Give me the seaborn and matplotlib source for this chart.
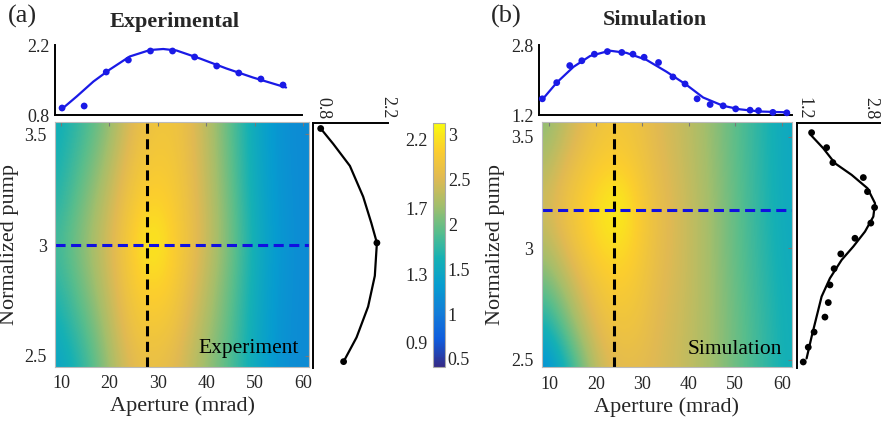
import numpy as np
import matplotlib
matplotlib.use('Agg')
import matplotlib.pyplot as plt
from matplotlib.colors import LinearSegmentedColormap
import seaborn as sns

sns.set_style('white')
plt.rcParams['font.family'] = ['Liberation Serif', 'DejaVu Serif']

W, H = 882, 426

# heatmap grids (columns = aperture, rows = pump, bottom row first)
grid_aperture = [9, 13, 17, 21, 25, 29, 33, 37, 41, 45, 49, 53, 57, 61]
grid_pump = [2.45, 2.635, 2.82, 3.005, 3.19, 3.375, 3.56]

exp_map = [
    [1.40, 1.62, 1.92, 2.28, 2.55, 2.62, 2.55, 2.35, 2.12, 1.88, 1.58, 1.32, 1.18, 1.15],
    [1.55, 1.78, 2.05, 2.40, 2.68, 2.75, 2.68, 2.45, 2.20, 1.92, 1.60, 1.33, 1.19, 1.15],
    [1.70, 1.93, 2.20, 2.50, 2.78, 2.88, 2.80, 2.55, 2.28, 1.97, 1.63, 1.35, 1.20, 1.15],
    [1.82, 2.02, 2.28, 2.55, 2.85, 3.08, 2.85, 2.62, 2.35, 2.03, 1.67, 1.37, 1.21, 1.15],
    [1.68, 1.93, 2.20, 2.48, 2.76, 2.88, 2.80, 2.60, 2.33, 2.00, 1.63, 1.35, 1.20, 1.15],
    [1.60, 1.82, 2.06, 2.36, 2.65, 2.76, 2.74, 2.57, 2.30, 1.96, 1.60, 1.33, 1.19, 1.15],
    [1.55, 1.72, 1.94, 2.22, 2.55, 2.68, 2.70, 2.55, 2.27, 1.93, 1.58, 1.32, 1.18, 1.15],
]

sim_map = [
    [1.10, 1.50, 1.98, 2.40, 2.55, 2.55, 2.50, 2.42, 2.33, 2.20, 2.04, 1.88, 1.72, 1.58],
    [1.55, 1.92, 2.30, 2.58, 2.68, 2.65, 2.52, 2.44, 2.33, 2.20, 2.03, 1.87, 1.71, 1.57],
    [1.95, 2.22, 2.52, 2.72, 2.80, 2.72, 2.56, 2.46, 2.35, 2.20, 2.02, 1.85, 1.69, 1.55],
    [2.28, 2.52, 2.75, 2.90, 2.95, 2.80, 2.60, 2.48, 2.35, 2.19, 2.00, 1.83, 1.67, 1.52],
    [2.45, 2.65, 2.82, 2.98, 3.10, 2.82, 2.62, 2.48, 2.35, 2.19, 2.00, 1.82, 1.65, 1.50],
    [2.28, 2.50, 2.68, 2.80, 2.82, 2.72, 2.56, 2.45, 2.32, 2.17, 1.98, 1.81, 1.64, 1.49],
    [2.10, 2.32, 2.52, 2.68, 2.72, 2.65, 2.52, 2.42, 2.30, 2.15, 1.97, 1.80, 1.63, 1.48],
]

exp_cut_aperture = 27.8
exp_cut_pump = 3.0
sim_cut_aperture = 23.9
sim_cut_pump = 3.17

# experimental aperture scan (top of panel a)
exp_ap_x = [10, 15, 20, 25, 30, 35, 40, 45, 50, 55, 60]
exp_ap_y = [0.94, 0.98, 1.66, 1.90, 2.08, 2.08, 1.96, 1.78, 1.64, 1.52, 1.40]
exp_ap_fit_x = [10.1, 13.3, 17.1, 20.8, 25.3, 29.9, 32.9, 35.9, 41.2, 47.2, 53.2, 60.7]
exp_ap_fit_y = [0.93, 1.17, 1.47, 1.71, 1.97, 2.10, 2.12, 2.09, 1.93, 1.73, 1.55, 1.35]

# experimental pump scan (right of panel a)
exp_pump_y = [3.53, 3.01, 2.47]
exp_pump_x = [0.745, 1.96, 1.24]
exp_pump_fit_y = [3.53, 3.46, 3.36, 3.22, 3.10, 3.01, 2.86, 2.72, 2.58, 2.47]
exp_pump_fit_x = [0.745, 1.016, 1.376, 1.663, 1.84, 1.96, 1.915, 1.77, 1.52, 1.24]

# simulated aperture scan (top of panel b)
sim_ap_x = [8.5, 11.6, 14.4, 17.0, 19.7, 22.5, 25.6, 28.0, 30.4, 33.5,
            36.6, 39.2, 41.8, 44.6, 47.4, 50.1, 53.2, 55.0, 58.1, 61.1]
sim_ap_y = [1.57, 1.94, 2.33, 2.44, 2.59, 2.65, 2.63, 2.59, 2.52, 2.40,
            2.07, 1.91, 1.57, 1.44, 1.41, 1.34, 1.31, 1.30, 1.26, 1.25]
sim_ap_fit_x = [8.4, 11.6, 15.2, 18.8, 23.0, 26.6, 30.9, 35.2, 39.5, 43.1, 47.4, 51.0, 55.3, 61.4]
sim_ap_fit_y = [1.54, 1.94, 2.30, 2.55, 2.67, 2.62, 2.46, 2.19, 1.89, 1.60, 1.41, 1.33, 1.28, 1.26]

# simulated pump scan (right of panel b)
sim_pump_y = [3.518, 3.451, 3.384, 3.317, 3.254, 3.183, 3.113, 3.045,
              2.975, 2.909, 2.836, 2.757, 2.692, 2.625, 2.557, 2.491]
sim_pump_x = [1.39, 1.75, 1.90, 2.63, 2.73, 2.90, 2.81, 2.43,
              2.09, 1.93, 1.83, 1.79, 1.71, 1.45, 1.31, 1.19]
sim_pump_fit_y = [3.508, 3.448, 3.381, 3.329, 3.269, 3.202, 3.142, 3.075,
                  3.008, 2.948, 2.866, 2.784, 2.694, 2.604, 2.507]
sim_pump_fit_x = [1.37, 1.67, 1.95, 2.35, 2.73, 2.91, 2.87, 2.67,
                  2.39, 2.11, 1.83, 1.63, 1.51, 1.39, 1.27]

cbar_ticks = [0.5, 1, 1.5, 2, 2.5, 3]
cbar_left_labels = ['2.2', '1.7', '1.3', '0.9']
cbar_left_pos = [2.92, 2.16, 1.42, 0.66]
cmin, cmax = 0.41, 3.13

parula = LinearSegmentedColormap.from_list('parula', [
    (0.2081, 0.1663, 0.5292), (0.0591, 0.3598, 0.8683), (0.0723, 0.4887, 0.8467),
    (0.0265, 0.6137, 0.8135), (0.0843, 0.6928, 0.7062), (0.3482, 0.7424, 0.5473),
    (0.6473, 0.7456, 0.4188), (0.8824, 0.7274, 0.3217), (0.9880, 0.8066, 0.1794),
    (0.9763, 0.9831, 0.0538)])


def box(x0, y0, x1, y1):
    # pixel box -> figure fraction
    return [x0 / W, 1 - y1 / H, (x1 - x0) / W, (y1 - y0) / H]


fig = plt.figure(figsize=(W / 100, H / 100), dpi=100)


def draw_map(rect, data, xlim, ylim, cut_x, cut_y, label):
    ax = fig.add_axes(rect)
    dx = grid_aperture[1] - grid_aperture[0]
    dy = grid_pump[1] - grid_pump[0]
    extent = [grid_aperture[0] - dx / 2, grid_aperture[-1] + dx / 2,
              grid_pump[0] - dy / 2, grid_pump[-1] + dy / 2]
    im = ax.imshow(np.array(data), origin='lower', extent=extent, aspect='auto',
                   cmap=parula, vmin=cmin, vmax=cmax, interpolation='bicubic')
    ax.set_xlim(*xlim)
    ax.set_ylim(*ylim)
    ax.axvline(cut_x, color='black', lw=2.2, ls=(0, (3.3, 1.8)))
    ax.axhline(cut_y, color='#1010e0', lw=2.2, ls=(0, (3.3, 1.8)))
    ax.set_xticks([10, 20, 30, 40, 50, 60])
    ax.set_yticks([2.5, 3, 3.5])
    ax.set_yticklabels(['2.5', '3', '3.5'])
    ax.tick_params(direction='in', length=3, color='#777777', labelsize=13, pad=6,
                   top=True, right=True)
    for s in ax.spines.values():
        s.set_color('#bbbbbb')
        s.set_linewidth(0.8)
    ax.set_xlabel('Aperture (mrad)', fontsize=16, labelpad=3)
    ax.set_ylabel('Normalized pump', fontsize=16, labelpad=4)
    ax.text(0.96, 0.035, label, transform=ax.transAxes, ha='right', va='bottom',
            fontsize=15.5, color='black')
    return ax, im


def draw_top(rect, px, py, fx, fy, xlim, ylim):
    ax = fig.add_axes(rect)
    sns.lineplot(x=fx, y=fy, ax=ax, color='#1a1ae6', lw=1.6, sort=False, estimator=None)
    sns.scatterplot(x=px, y=py, ax=ax, color='#1a1ae6', s=24, edgecolor='none', zorder=3,
                    clip_on=False)
    ax.set_xlim(*xlim)
    ax.set_ylim(*ylim)
    ax.set_xticks([])
    ax.set_yticks(ylim)
    ax.set_yticklabels([f'{v:.1f}' for v in ylim])
    ax.tick_params(axis='y', length=0, labelsize=13, pad=4)
    for side in ['top', 'right']:
        ax.spines[side].set_visible(False)
    for side in ['left', 'bottom']:
        ax.spines[side].set_color('black')
        ax.spines[side].set_linewidth(1.4)
    ax.patch.set_alpha(0)
    return ax


def draw_side(rect, px, py, fx, fy, xlim, ylim, ticks):
    ax = fig.add_axes(rect)
    sns.lineplot(x=fx, y=fy, ax=ax, color='black', lw=1.6, sort=False, estimator=None)
    sns.scatterplot(x=px, y=py, ax=ax, color='black', s=24, edgecolor='none', zorder=3,
                    clip_on=False)
    ax.set_xlim(*xlim)
    ax.set_ylim(*ylim)
    ax.set_yticks([])
    ax.xaxis.tick_top()
    ax.set_xticks(ticks)
    ax.set_xticklabels([f'{v:.1f}' for v in ticks], rotation=-90)
    ax.tick_params(axis='x', length=0, labelsize=13, pad=3)
    for side in ['bottom', 'right']:
        ax.spines[side].set_visible(False)
    for side in ['left', 'top']:
        ax.spines[side].set_color('black')
        ax.spines[side].set_linewidth(1.4)
    ax.set_xlabel('')
    ax.set_ylabel('')
    ax.patch.set_alpha(0)
    return ax


# panel (a)
ax_a, im_a = draw_map(box(55, 122, 309, 367), exp_map, (8.76, 61.24), (2.45, 3.556),
                      exp_cut_aperture, exp_cut_pump, 'Experiment')
draw_top(box(55, 45, 302, 115), exp_ap_x, exp_ap_y, exp_ap_fit_x, exp_ap_fit_y,
         (8.4, 64.3), (0.8, 2.2))
draw_side(box(313.3, 123, 388, 368), exp_pump_x, exp_pump_y, exp_pump_fit_x, exp_pump_fit_y,
          (0.585, 2.2), (2.441, 3.555), [0.8, 2.2])

# panel (b)
ax_b, im_b = draw_map(box(541.7, 121.7, 791.7, 367.3), sim_map, (8.37, 62.15), (2.467, 3.567),
                      sim_cut_aperture, sim_cut_pump, 'Simulation')
draw_top(box(539.3, 45, 791.7, 115), sim_ap_x, sim_ap_y, sim_ap_fit_x, sim_ap_fit_y,
         (7.85, 62.15), (1.2, 2.8))
draw_side(box(797, 123.3, 880, 368), sim_pump_x, sim_pump_y, sim_pump_fit_x, sim_pump_fit_y,
          (1.04, 3.03), (2.464, 3.56), [1.2, 2.8])

# shared colorbar
cax = fig.add_axes(box(433, 123, 445, 367))
cb = fig.colorbar(im_b, cax=cax, ticks=cbar_ticks)
cb.ax.set_yticklabels(['0.5', '1', '1.5', '2', '2.5', '3'])
cb.ax.tick_params(labelsize=13, direction='in', length=2.5, color='#666666', pad=2)
cb.outline.set_edgecolor('#aaaaaa')
cb.outline.set_linewidth(0.8)
for lab, pos in zip(cbar_left_labels, cbar_left_pos):
    cax.text(-0.45, pos, lab, transform=cax.get_yaxis_transform(), ha='right', va='center',
             fontsize=13)

# titles and panel letters
fig.text(8 / W, 1 - 16 / H, '(a)', fontsize=19, ha='left', va='center')
fig.text(175 / W, 1 - 22 / H, 'Experimental', fontsize=16, fontweight='bold',
         ha='center', va='center')
fig.text(491 / W, 1 - 16 / H, '(b)', fontsize=19, ha='left', va='center')
fig.text(655 / W, 1 - 20 / H, 'Simulation', fontsize=16, fontweight='bold',
         ha='center', va='center')

fig.savefig('out.png', dpi=100)
